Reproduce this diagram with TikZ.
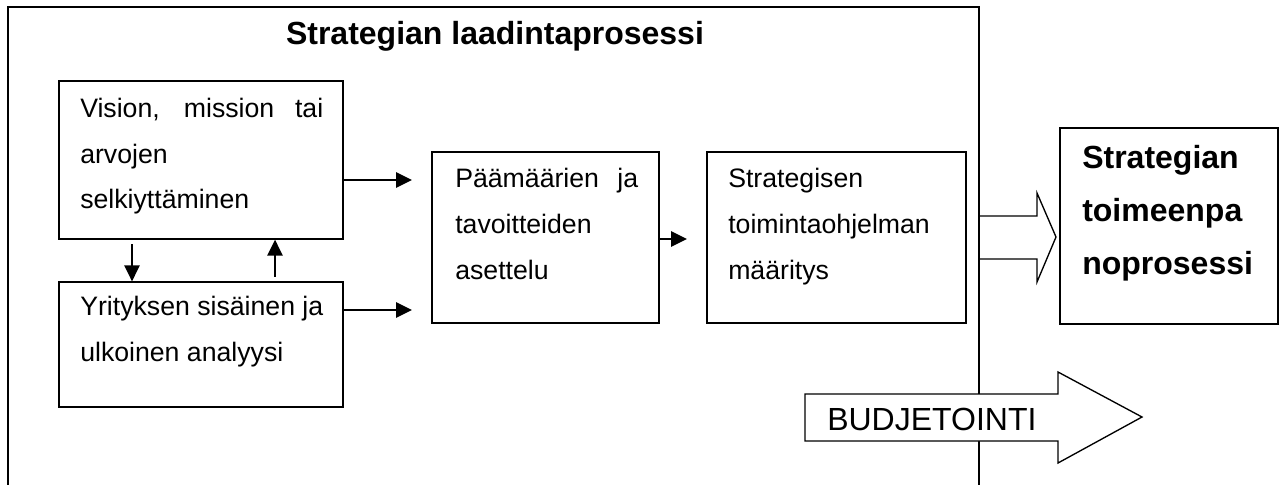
\documentclass[tikz,border=0pt]{standalone}
\usepackage{fontspec}
\setmainfont{Liberation Sans}
\usetikzlibrary{arrows.meta,calc}
\begin{document}
\begin{tikzpicture}[x=0.75pt,y=-0.75pt,
  boxnode/.style={draw=black, line width=1.3pt, inner sep=0pt, outer sep=0pt, anchor=north west},
  bodytext/.style={inner sep=0pt, anchor=base west, align=justify,
    font=\fontsize{20pt}{34.5pt}\selectfont},
  boldtext/.style={inner sep=0pt, anchor=base west, align=left,
    font=\fontsize{24pt}{40pt}\selectfont\bfseries},
  arr/.style={line width=1.5pt, -{Triangle[length=12pt,width=11.5pt]}},
  frameline/.style={line width=1pt},
  blockarrow/.style={line width=1pt, fill=white}]
\useasboundingbox (0,0) rectangle (1284,485);
% outer frame
\draw[frameline] (8,500) -- (8,7) -- (979,7) -- (979,500);
\node[inner sep=0pt, anchor=base, font=\fontsize{24pt}{28pt}\selectfont\bfseries] (title) at (495,45) {Strategian laadintaprosessi};
% boxes
\node[boxnode, minimum width={284*0.75pt}, minimum height={158*0.75pt}] (box1) at (59,81) {};
\node[boxnode, minimum width={284*0.75pt}, minimum height={125*0.75pt}] (box2) at (59,282) {};
\node[boxnode, minimum width={227*0.75pt}, minimum height={171*0.75pt}] (box3) at (432,152) {};
\node[boxnode, minimum width={259*0.75pt}, minimum height={171*0.75pt}] (box4) at (707,152) {};
\node[boxnode, minimum width={218*0.75pt}, minimum height={196*0.75pt}] (box5) at (1060,128) {};
% texts
\node[bodytext, text width={243*0.75pt}] (t1) at ($(box1.north west)+(21,36)$) {Vision, mission tai\linebreak arvojen\\selkiyttäminen};
\node[bodytext, text width={243*0.75pt}] (t2) at ($(box2.north west)+(21,33)$) {Yrityksen sisäinen ja\\ulkoinen analyysi};
\node[bodytext, text width={183*0.75pt}] (t3) at ($(box3.north west)+(23,35)$) {Päämäärien ja\linebreak tavoitteiden\\asettelu};
\node[bodytext, text width={225*0.75pt}] (t4) at ($(box4.north west)+(21,35)$) {Strategisen\\toimintaohjelman\\määritys};
\node[boldtext, text width={190*0.75pt}] (t5) at ($(box5.north west)+(22,40)$) {Strategian\\toimeenpa\\noprosessi};
% connectors
\coordinate (a1) at ($(box1.north east)+(0,99)$);
\draw[arr, shorten >=15pt] (a1) -- (a1 -| box3.west);
\coordinate (a2) at ($(box2.north east)+(0,28)$);
\draw[arr, shorten >=15pt] (a2) -- (a2 -| box3.west);
\coordinate (a3) at ($(box3.north east)+(0,87)$);
\draw[arr, shorten >=15pt] (a3) -- (a3 -| box4.west);
\draw[arr, shorten <=4pt, shorten >=0.5pt] ($(box1.south west)+(73,0)$) -- ($(box2.north west)+(73,0)$);
\draw[arr, shorten <=4pt, shorten >=0.5pt] ($(box2.north west)+(216,0)$) -- ($(box1.south west)+(216,0)$);
% hollow block arrow into box5
\draw[frameline, line join=miter] (979,216) -- (1037,216) -- (1037,193) -- (1056,237) -- (1037,282) -- (1037,259) -- (979,259);
% budget arrow
\draw[blockarrow] (805,394) -- (1058,394) -- (1058,372) -- (1142,417) -- (1058,463) -- (1058,441) -- (805,441) -- cycle;
\node[inner sep=0pt, anchor=base west, font=\fontsize{24pt}{28pt}\selectfont] (budj) at (827,430) {BUDJETOINTI};
\end{tikzpicture}
\end{document}
